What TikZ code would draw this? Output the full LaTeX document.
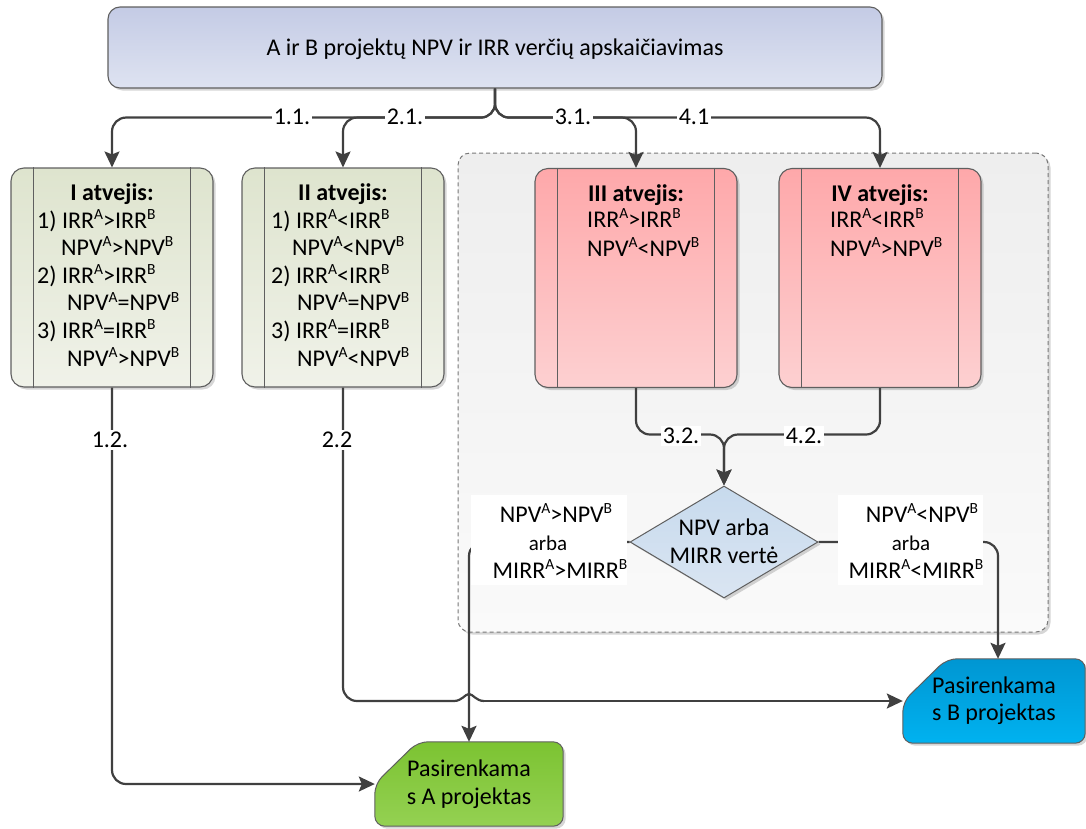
\documentclass[tikz,border=0pt]{standalone}
\usepackage{fontspec}
\setmainfont{Carlito}
\usetikzlibrary{shapes.geometric,shadows,arrows.meta,calc,backgrounds}

\definecolor{topA}{RGB}{196,203,229}
\definecolor{topB}{RGB}{222,227,241}
\definecolor{grnA}{RGB}{222,228,206}
\definecolor{grnB}{RGB}{240,242,233}
\definecolor{redA}{RGB}{254,168,170}
\definecolor{redB}{RGB}{253,208,209}
\definecolor{grpA}{RGB}{238,238,238}
\definecolor{grpB}{RGB}{250,250,250}
\definecolor{diaA}{RGB}{199,218,237}
\definecolor{diaB}{RGB}{218,229,242}
\definecolor{aA}{RGB}{124,195,50}
\definecolor{aB}{RGB}{148,209,82}
\definecolor{bA}{RGB}{0,150,210}
\definecolor{bB}{RGB}{0,178,240}
\definecolor{conncol}{RGB}{64,64,64}
\definecolor{boxline}{RGB}{95,95,95}
\definecolor{grpline}{RGB}{120,120,120}

% superscript index (A or B)
\newcommand\su[1]{\raisebox{8.8pt}{\fontsize{15.5}{15.5}\selectfont #1}}
\newcommand\bodyfont{\fontsize{24}{27.6}\selectfont}

\tikzset{
  shadowed/.style={drop shadow={shadow xshift=2.5pt, shadow yshift=-2.5pt, fill=black, opacity=0.16}},
  casebox/.style={draw=boxline, line width=1.1pt, rounded corners=13pt,
    minimum width=202pt, minimum height=219pt, inner sep=0pt, shadowed},
  greenbox/.style={casebox, top color=grnA, bottom color=grnB},
  redbox/.style={casebox, top color=redA, bottom color=redB},
  conn/.style={draw=conncol, line width=2.2pt, rounded corners=14pt},
  arr/.style={conn, -{Stealth[length=16pt, width=15pt, inset=3pt]}},
  lbl/.style={fill=white, inner sep=1.5pt, text height=15.5pt, text depth=1pt},
  casetitle/.style={anchor=base, inner sep=0pt, font=\bodyfont\bfseries},
  % multi-line blocks are placed by the baseline of their last line
  body/.style={anchor=base west, align=left, inner sep=0pt, font=\bodyfont},
  body2/.style={body, font=\fontsize{24}{29}\selectfont},
  sidetxt/.style={anchor=base, inner sep=0pt},
  small/.style={anchor=base, inner sep=0pt, font=\fontsize{21}{24}\selectfont},
}

\begin{document}
\begin{tikzpicture}[x=1pt, y=-1pt, font=\bodyfont]
\useasboundingbox (0,0) rectangle (1086,828);

% dashed group behind cases III and IV
\node[draw=grpline, dash pattern=on 4pt off 3pt, line width=1pt, rounded corners=12pt,
  top color=grpA, bottom color=grpB, minimum width=590pt, minimum height=479pt,
  inner sep=0pt, shadowed] (grp) at (753,392.5) {};

% top process
\node[draw=boxline, line width=1.1pt, rounded corners=12pt, top color=topA, bottom color=topB,
  minimum width=774pt, minimum height=81pt, inner sep=0pt, text height=15.5pt, text depth=0pt,
  shadowed] (top) at (495,47.5) {A ir B projektų NPV ir IRR verčių apskaičiavimas};

% the four cases
\node[greenbox] (b1) at (112,277.5) {};
\node[greenbox] (b2) at (343,277.5) {};
\node[redbox] (b3) at (636,278) {};
\node[redbox] (b4) at (880,278) {};
\foreach \b in {b1,b2,b3,b4}
  \draw[boxline, line width=1.1pt]
    ([xshift=23pt]\b.north west) -- ([xshift=23pt]\b.south west)
    ([xshift=-23pt]\b.north east) -- ([xshift=-23pt]\b.south east);

\node[casetitle] (t1) at (112,200) {I atvejis:};
\node[body] (x1) at (37,366) {1) IRR\su{A}>IRR\su{B}\\\hspace*{24pt}NPV\su{A}>NPV\su{B}\\2) IRR\su{A}>IRR\su{B}\\\hspace*{30pt}NPV\su{A}=NPV\su{B}\\3) IRR\su{A}=IRR\su{B}\\\hspace*{30pt}NPV\su{A}>NPV\su{B}};

\node[casetitle] (t2) at (343,200) {II atvejis:};
\node[body] (x2) at (271,366) {1) IRR\su{A}<IRR\su{B}\\\hspace*{21pt}NPV\su{A}<NPV\su{B}\\2) IRR\su{A}<IRR\su{B}\\\hspace*{26pt}NPV\su{A}=NPV\su{B}\\3) IRR\su{A}=IRR\su{B}\\\hspace*{26pt}NPV\su{A}<NPV\su{B}};

\node[casetitle] (t3) at (636,201) {III atvejis:};
\node[body2] (x3) at (587,256) {IRR\su{A}>IRR\su{B}\\NPV\su{A}<NPV\su{B}};

\node[casetitle] (t4) at (880,201) {IV atvejis:};
\node[body2] (x4) at (830,256) {IRR\su{A}<IRR\su{B}\\NPV\su{A}>NPV\su{B}};

% decision
\node[diamond, draw=boxline, line width=1pt, top color=diaA, bottom color=diaB,
  minimum width=188pt, minimum height=112pt, inner sep=0pt, shadowed] (dec) at (724,542) {};
\node[anchor=base, align=center, inner sep=0pt, font=\fontsize{24}{28}\selectfont] (dtxt) at (724,563) {NPV arba\\MIRR vertė};

% outcomes
\node[minimum width=188pt, minimum height=84pt, inner sep=0pt, align=center,
  font=\fontsize{24}{28}\selectfont] (pa) at (469,784) {Pasirenkama\\s A projektas};
\node[minimum width=182pt, minimum height=84pt, inner sep=0pt, align=center,
  font=\fontsize{24}{27}\selectfont] (pb) at (994,701) {Pasirenkama\\s B projektas};
\begin{scope}[on background layer]
  \path[draw=boxline, line width=1pt, rounded corners=10pt, top color=aA, bottom color=aB, shadowed]
    (pa.south west) -- ($(pa.north west)+(0,42)$) -- ($(pa.north west)+(43,0)$)
    -- (pa.north east) -- (pa.south east) -- cycle;
  \path[draw=boxline, line width=1pt, rounded corners=10pt, top color=bA, bottom color=bB, shadowed]
    (pb.south west) -- ($(pb.north west)+(0,43)$) -- ($(pb.north west)+(44,0)$)
    -- (pb.north east) -- (pb.south east) -- cycle;
\end{scope}

% connectors from the top process
\coordinate (split) at ($(top.south)+(0,29)$);
\draw[arr] (top.south) -- (split) -| (b1.north);
\draw[arr] (top.south) -- (split) -| (b2.north);
\draw[arr] (top.south) -- (split) -| (b3.north);
\draw[arr] (top.south) -- (split) -| (b4.north);

% case I and II to the outcomes
\draw[arr] (b1.south) |- (pa.west);
\coordinate (hop) at (pa.north |- pb.west);
\draw[conn] (b2.south) |- ($(hop)+(-15,0)$);
\draw[conn, sharp corners] ($(hop)+(-15,0)$) .. controls ($(hop)+(-7,0)$) and ($(hop)+(-4,-7)$) .. ($(hop)+(0,-7)$)
  .. controls ($(hop)+(4,-7)$) and ($(hop)+(7,0)$) .. ($(hop)+(15,0)$);
\draw[arr] ($(hop)+(15,0)$) -- (pb.west);

% cases III and IV into the decision
\draw[arr] (b3.south) |- ($(dec.north)+(0,-51)$) -- (dec.north);
\draw[arr] (b4.south) |- ($(dec.north)+(0,-51)$) -- (dec.north);

% decision outcomes
\draw[arr] (dec.west) -| (pa.north);
\draw[arr] (dec.east) -| ([xshift=4pt]pb.north);

% connector labels
\node[lbl] (l11) at (292,117) {1.1.};
\node[lbl] (l21) at (405,117) {2.1.};
\node[lbl] (l31) at (573,117) {3.1.};
\node[lbl] (l41) at (694,117) {4.1};
\node[lbl] (l12) at (110,440) {1.2.};
\node[lbl] (l22) at (337,440) {2.2};
\node[lbl] (l32) at (681,436) {3.2.};
\node[lbl] (l42) at (804,436) {4.2.};

% condition labels on the decision branches
\node[fill=white, minimum width=156pt, minimum height=90pt, inner sep=0pt] (ll) at (549,540) {};
\node[sidetxt] (ll1) at (556,522) {NPV\su{A}>NPV\su{B}};
\node[small] (ll2) at (548,550) {arba};
\node[sidetxt] (ll3) at (560,578) {MIRR\su{A}>MIRR\su{B}};

\node[fill=white, minimum width=145pt, minimum height=90pt, inner sep=0pt] (rl) at (910.5,540) {};
\node[sidetxt] (rl1) at (922,522) {NPV\su{A}<NPV\su{B}};
\node[small] (rl2) at (911,550) {arba};
\node[sidetxt] (rl3) at (916,578) {MIRR\su{A}<MIRR\su{B}};
\end{tikzpicture}
\end{document}
